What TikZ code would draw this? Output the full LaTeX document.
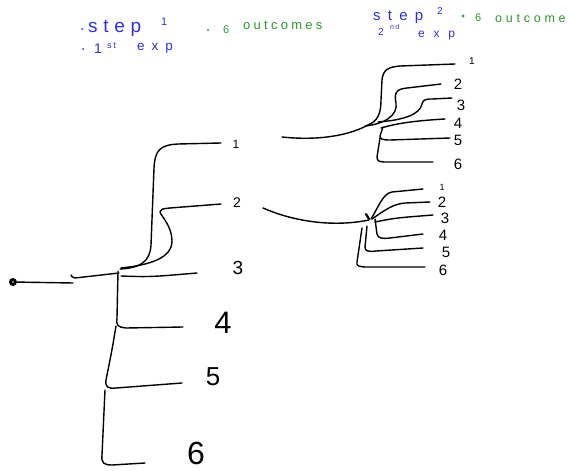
\documentclass[tikz,border=0pt]{standalone}
\usepackage{fontspec}
\setmainfont{Liberation Sans}
\usetikzlibrary{calc}
\definecolor{penblue}{RGB}{45,45,235}
\definecolor{pengreen}{RGB}{45,150,45}
\newcommand\fsz[1]{\fontsize{#1}{#1}\selectfont}
\newcommand\spaced[2]{{\addfontfeature{LetterSpace=#1}#2}}
\begin{document}
\begin{tikzpicture}[x=1pt,y=-1pt,
  ink/.style={line width=1.4pt,line cap=round,line join=round},
  dig/.style={inner sep=0pt,anchor=center},
  hb/.style={inner sep=0pt,anchor=base west,text=penblue},
  hg/.style={inner sep=0pt,anchor=base west,text=pengreen},
  dotb/.style={circle,fill=penblue,inner sep=0pt,minimum size=2pt},
  dotg/.style={circle,fill=pengreen,inner sep=0pt,minimum size=2.4pt}]
\useasboundingbox (0,0) rectangle (568,471);

% ---- headings ----
\node[dotb] (d1) at (82,29) {};
\node[hb,font=\fsz{19}] (st1) at (88,32) {\spaced{30}{step}};
\node[hb,font=\fsz{11}] (n1) at (161,25) {1};
\node[dotb] (d2) at (83,49) {};
\node[hb,font=\fsz{14}] (f1) at (94,53) {1};
\node[hb,font=\fsz{9}] (f2) at (107,48) {\spaced{20}{st}};
\node[hb,font=\fsz{13.5}] (ex1) at (137,50) {\spaced{52}{exp}};
\node[dotg] (d3) at (208,30) {};
\node[hg,font=\fsz{11}] (six1) at (223,33) {6};
\node[hg,font=\fsz{13}] (oc1) at (243,30) {\spaced{25}{outcomes}};

\node[hb,font=\fsz{15}] (st2) at (373,20) {\spaced{48}{step}};
\node[hb,font=\fsz{10}] (n2) at (437,15) {2};
\node[hb,font=\fsz{10}] (s2) at (378,35) {2};
\node[hb,font=\fsz{7}] (nd) at (390,30) {\spaced{20}{nd}};
\node[hb,font=\fsz{12}] (ex2) at (418,37) {\spaced{73}{exp}};
\node[dotg,minimum size=3pt] (d4) at (463,16) {};
\node[hg,font=\fsz{11}] (six2) at (475,21) {6};
\node[hg,font=\fsz{12.5}] (oc2) at (495,22) {\spaced{30}{outcome}};

% ---- first experiment ----
\node[circle,fill=black,inner sep=0pt,minimum size=8pt] (root) at (13,282) {};
\fill[gray] (root.center) circle (1.3pt);
\coordinate (j0) at (119,273);
\node[dig,font=\fsz{12}] (m1) at (236,144) {1};
\node[dig,font=\fsz{14}] (m2) at (237,203) {2};
\node[dig,font=\fsz{19}] (m3) at (238,268) {3};
\node[dig,font=\fsz{31}] (m4) at (223,323) {4};
\node[dig,font=\fsz{26}] (m5) at (213,377) {5};
\node[dig,font=\fsz{32}] (m6) at (196,453) {6};
\coordinate (e1) at (221,143);
\coordinate (e2) at (221,204);
\coordinate (e3) at (197,273);
\coordinate (e4) at (183,327);
\coordinate (e5) at (182,383);
\coordinate (e6) at (145,463);

\draw[ink] (root) -- (73,283);
\draw[ink] (71,275) .. controls (72,277) .. (75,278) -- (j0);
\draw[ink] (120,269) .. controls (140,268) and (150,262) .. (151,245)
  -- (154,168) .. controls (155,150) and (160,145) .. (178,144) -- (e1);
\draw[ink] (121,268) .. controls (150,265) and (172,258) .. (172,241)
  .. controls (172,226) and (161,216) .. (160,212)
  .. controls (161,209) .. (170,208) -- (e2);
\draw[ink] (121,276) .. controls (150,277) .. (e3);
\draw[ink] (118,271) -- (117,318) .. controls (116,326) and (118,327) .. (126,328) -- (e4);
\draw[ink] (116,326) .. controls (112,350) .. (106,380)
  .. controls (105,387) and (108,389) .. (116,388) -- (e5);
\draw[ink] (105,390) -- (102,455) .. controls (101,463) and (104,465) .. (112,465) -- (e6);

% ---- second experiment, after outcome 1 ----
\coordinate (a0) at (282,137);
\coordinate (t0) at (368,125);
\node[dig,font=\fsz{10}] (p1) at (472,61) {1};
\node[dig,font=\fsz{15}] (p2) at (458,84) {2};
\node[dig,font=\fsz{15}] (p3) at (461,105) {3};
\node[dig,font=\fsz{15}] (p4) at (458,123) {4};
\node[dig,font=\fsz{15}] (p5) at (458,140) {5};
\node[dig,font=\fsz{15}] (p6) at (458,164) {6};
\coordinate (f1e) at (455,64);
\coordinate (f2e) at (441,84);
\coordinate (f3e) at (452,98);
\coordinate (f4e) at (445,119);
\coordinate (f5e) at (450,138);
\coordinate (f6e) at (433,162);

\draw[ink] (a0) .. controls (320,141) and (350,135) .. (t0);
\draw[ink] (t0) .. controls (378,121) and (381,113) .. (381,100)
  -- (382,80) .. controls (383,70) and (388,67) .. (400,66) -- (f1e);
\draw[ink] (365,126) .. controls (385,124) and (398,115) .. (396,103)
  .. controls (394,93) and (396,89) .. (407,88) -- (f2e);
\draw[ink] (378,122) .. controls (405,120) and (420,114) .. (422,104)
  .. controls (423,100) and (425,99) .. (432,99) -- (f3e);
\draw[ink] (381,128) .. controls (395,124) and (410,121) .. (f4e);
\draw[ink] (383,127) -- (380,136) .. controls (380,139) and (382,140) .. (390,140) -- (f5e);
\draw[ink] (380,138) -- (377,157) .. controls (377,161) and (379,162) .. (386,162) -- (f6e);

% ---- second experiment, after outcome 2 ----
\coordinate (b0) at (263,208);
\coordinate (u0) at (369,220);
\node[dig,font=\fsz{9}] (q1) at (442,187) {1};
\node[dig,font=\fsz{15}] (q2) at (442,202) {2};
\node[dig,font=\fsz{15}] (q3) at (445,218) {3};
\node[dig,font=\fsz{15}] (q4) at (443,235) {4};
\node[dig,font=\fsz{15}] (q5) at (446,252) {5};
\node[dig,font=\fsz{15}] (q6) at (443,270) {6};
\coordinate (g1e) at (423,189);
\coordinate (g2e) at (430,202);
\coordinate (g3e) at (433,215);
\coordinate (g4e) at (423,234);
\coordinate (g5e) at (423,248);
\coordinate (g6e) at (425,267);

\draw[ink] (b0) .. controls (290,220) and (330,228) .. (u0);
\draw[ink,line width=2.2pt] (366,214) -- (369,219);
\draw[ink] (371,219) .. controls (378,208) and (383,193) .. (392,192) -- (g1e);
\draw[ink] (372,219) .. controls (385,210) and (393,204) .. (405,203) -- (g2e);
\draw[ink] (375,222) .. controls (395,218) .. (g3e);
\draw[ink] (375,219) -- (377,234) .. controls (378,238) and (381,239) .. (390,238) -- (g4e);
\draw[ink] (367,226) -- (365,247) .. controls (365,251) and (368,252) .. (376,251) -- (g5e);
\draw[ink] (362,228) -- (357,262) .. controls (356,266) and (359,267) .. (368,267) -- (g6e);
\end{tikzpicture}
\end{document}
